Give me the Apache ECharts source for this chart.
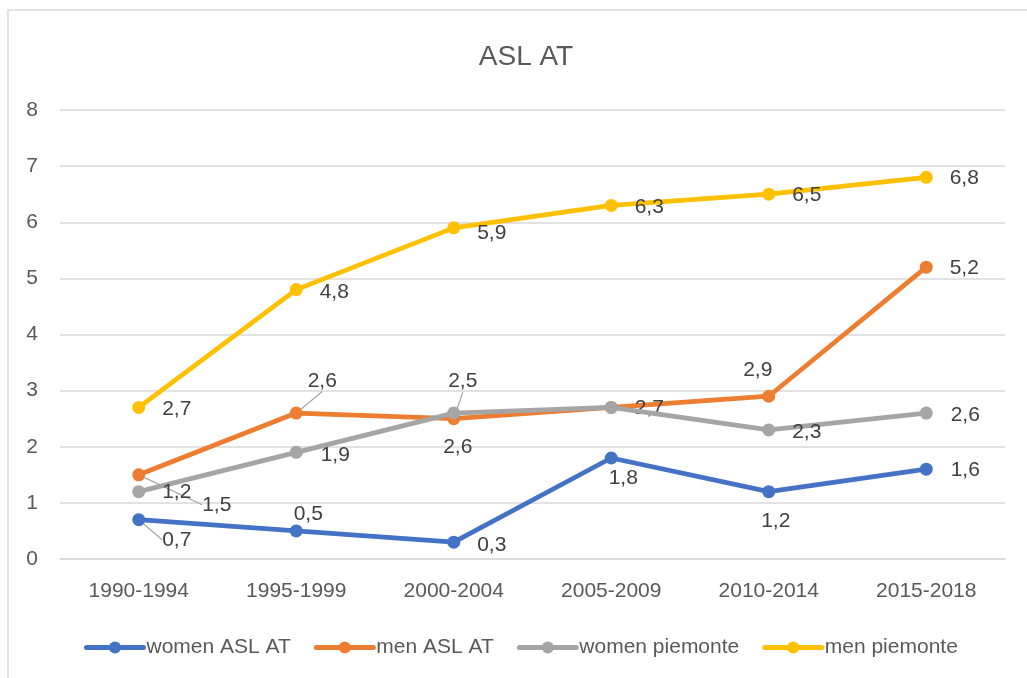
<!DOCTYPE html>
<html>
<head>
<meta charset="utf-8">
<script src="https://cdn.jsdelivr.net/npm/echarts@6/dist/echarts.min.js"></script>
<style>
html,body{margin:0;padding:0;background:#fff;}
#chart{width:1027px;height:678px;}
</style>
</head>
<body>
<div id="chart"></div>
<script>
// ---- data ----
var categories = ['1990-1994', '1995-1999', '2000-2004', '2005-2009', '2010-2014', '2015-2018'];
var seriesNames = ['women ASL AT', 'men ASL AT', 'women piemonte', 'men piemonte'];
var womenASLAT = [0.7, 0.5, 0.3, 1.8, 1.2, 1.6];
var menASLAT = [1.5, 2.6, 2.5, 2.7, 2.9, 5.2];
var womenPiemonte = [1.2, 1.9, 2.6, 2.7, 2.3, 2.6];
var menPiemonte = [2.7, 4.8, 5.9, 6.3, 6.5, 6.8];
var yTicks = [0, 1, 2, 3, 4, 5, 6, 7, 8];

// ---- label placement (offset of label centre from point, in px) ----
var labelOffsets = [
  [[38, 20], [12, -17], [38, 3], [12, 20], [7, 30], [39, 1]],      // women ASL AT
  [[78, 30], [26, -32], [9, -37], [38, 1], [-11, -26], [38, 1]],   // men ASL AT
  [[38, 1], [39, 3], [4, 34], [38, 1], [38, 2], [39, 2]],          // women piemonte
  [[38, 2], [38, 3], [38, 5], [38, 2], [38, 1], [38, 1]]           // men piemonte
];
var leaderLines = [
  [true, false, false, false, false, false],
  [true, true, true, false, false, false],
  [false, false, false, false, false, false],
  [false, false, false, false, false, false]
];
var labelVisible = [
  [true, true, true, true, true, true],
  [true, true, true, true, true, true],
  [true, true, true, false, true, true],
  [true, true, true, true, true, true]
];
var colors = ['#4472C4', '#ED7D31', '#A5A5A5', '#FFC000'];
var allValues = [womenASLAT, menASLAT, womenPiemonte, menPiemonte];

var FONT = 'Liberation Sans';

var series = allValues.map(function (vals, s) {
  return {
    name: seriesNames[s],
    type: 'line',
    data: vals.map(function (v, i) {
      return {
        value: v,
        label: { show: labelVisible[s][i] },
        labelLine: { show: leaderLines[s][i] }
      };
    }),
    symbol: 'circle',
    symbolSize: 13,
    lineStyle: { width: 4.75, color: colors[s] },
    itemStyle: { color: colors[s] },
    z: s === 1 ? 2 : 3 + s,
    label: {
      show: true,
      position: 'inside',
      fontFamily: FONT,
      fontSize: 21,
      color: '#404040',
      formatter: function (p) { return String(p.value).replace('.', ','); }
    },
    labelLine: {
      show: false,
      lineStyle: { color: '#a6a6a6', width: 1.2 }
    },
    labelLayout: function (params) {
      var o = labelOffsets[s][params.dataIndex];
      return { dx: o[0], dy: o[1] };
    },
    emphasis: { disabled: true },
    animation: false
  };
});

var chart = echarts.init(document.getElementById('chart'), null, { renderer: 'canvas' });
chart.setOption({
  animation: false,
  color: colors,
  graphic: [{
    type: 'rect',
    shape: { x: 8, y: 10, width: 1200, height: 1000 },
    style: { fill: 'none', stroke: '#d9d9d9', lineWidth: 1.5 },
    silent: true,
    z: -10
  }],
  title: {
    text: 'ASL AT',
    left: 521,
    textAlign: 'center',
    top: 38,
    textStyle: { fontFamily: FONT, fontSize: 28, fontWeight: 'normal', color: '#595959' }
  },
  legend: {
    data: seriesNames,
    left: 79,
    top: 632,
    itemWidth: 57,
    itemHeight: 15,
    itemGap: 23,
    lineStyle: { width: 5, cap: 'round' },
    textStyle: { fontFamily: FONT, fontSize: 21, color: '#595959', padding: [0, 0, 0, -2] }
  },
  grid: { left: 60, right: 22, top: 110, bottom: 119, containLabel: false },
  xAxis: {
    type: 'category',
    data: categories,
    boundaryGap: true,
    axisLine: { show: true, lineStyle: { color: '#d9d9d9', width: 1.5 } },
    axisTick: { show: false },
    axisLabel: { fontFamily: FONT, fontSize: 21, color: '#595959', margin: 22 }
  },
  yAxis: {
    type: 'value',
    min: yTicks[0],
    max: yTicks[yTicks.length - 1],
    interval: 1,
    axisLine: { show: false },
    axisTick: { show: false },
    axisLabel: { fontFamily: FONT, fontSize: 21, color: '#595959', margin: 22 },
    splitLine: { lineStyle: { color: '#d9d9d9', width: 1.5 } }
  },
  series: series
});
</script>
</body>
</html>
